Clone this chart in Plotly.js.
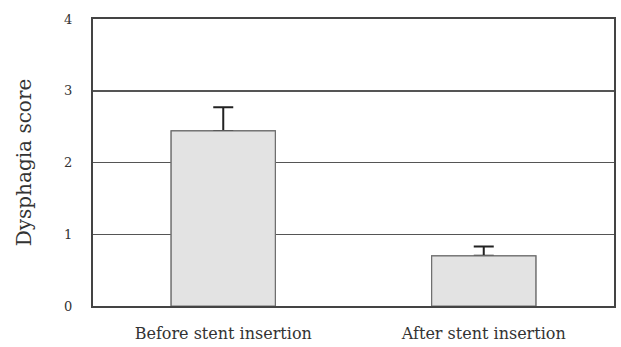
<!DOCTYPE html>
<html>
<head>
<meta charset="utf-8">
<script src="https://cdn.plot.ly/plotly-3.0.1.min.js"></script>
<style>html,body{margin:0;padding:0;background:#fff;}#chart{width:621px;height:347px;}</style>
</head>
<body>
<div id="chart"></div>
<script>
const categories = ["Before stent insertion", "After stent insertion"];
const meanScores = [2.44, 0.70];
const errorPlus = [0.33, 0.13];
const errorMinus = [0, 0];
const yTickValues = [0, 1, 2, 3, 4];
const yTickLabels = ["0", "1", "2", "3", "4"];

const serif = "'DejaVu Serif', 'Liberation Serif', serif";

const barStyle = { color: "#e3e3e3", line: { color: "#6e6e6e", width: 1.2 } };

// trace carrying the error bars
const errTrace = {
  type: "bar",
  x: categories,
  y: meanScores,
  width: 0.4,
  marker: barStyle,
  error_y: {
    type: "data",
    symmetric: false,
    array: errorPlus,
    arrayminus: errorMinus,
    color: "#222",
    thickness: 2,
    width: 10
  },
  hoverinfo: "none"
};
// identical bars drawn over, hiding the lower cross-bar
const coverTrace = {
  type: "bar",
  x: categories,
  y: meanScores,
  width: 0.4,
  marker: barStyle,
  hoverinfo: "none"
};

const layout = {
  width: 621,
  height: 347,
  margin: { l: 93, r: 7, t: 19, b: 41 },
  paper_bgcolor: "#fff",
  plot_bgcolor: "#fff",
  showlegend: false,
  barmode: "overlay",
  xaxis: {
    type: "category",
    range: [-0.5, 1.5],
    showgrid: false,
    showline: true,
    mirror: true,
    linecolor: "#444",
    linewidth: 2,
    ticks: "",
    tickfont: { family: serif, size: 16, color: "#333" },
    ticklabelstandoff: 12
  },
  yaxis: {
    range: [0, 4],
    tickvals: yTickValues,
    ticktext: yTickLabels,
    showgrid: true,
    gridcolor: "#555",
    gridwidth: 1.5,
    zeroline: false,
    showline: true,
    mirror: true,
    linecolor: "#444",
    linewidth: 2,
    ticks: "",
    tickfont: { family: serif, size: 13, color: "#333" },
    ticklabelstandoff: 16,
    title: { text: "Dysphagia score", font: { family: serif, size: 20, color: "#333" }, standoff: 27 }
  }
};

Plotly.newPlot("chart", [errTrace, coverTrace], layout, { displayModeBar: false, staticPlot: true });
</script>
</body>
</html>
